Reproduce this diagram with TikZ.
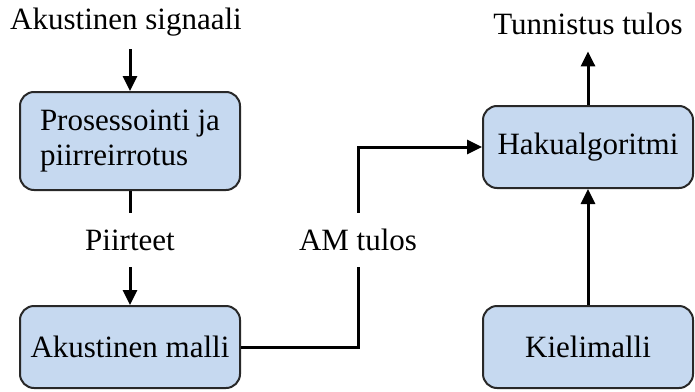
\documentclass[tikz,border=0pt]{standalone}
\usepackage{fontspec}
\setmainfont{Liberation Serif}
\usepackage{tikz}
\usetikzlibrary{arrows.meta,calc}

\definecolor{boxfill}{RGB}{198,217,240}
\definecolor{boxline}{RGB}{40,40,40}

\begin{document}
\begin{tikzpicture}[x=0.5pt,y=-0.5pt,>={Triangle[length=7.5pt,width=7pt]},
  font=\fontsize{15.5}{17.5}\selectfont,
  blk/.style={draw=boxline,fill=boxfill,line width=1pt,rounded corners=7pt,minimum width=110pt,inner sep=0pt},
  lbl/.style={inner sep=0pt,minimum height=27pt},
  conn/.style={line width=1.5pt}]
\useasboundingbox (0,0) rectangle (695,391);

\node[lbl] (sig) at (126,22) {Akustinen signaali};
\node[blk,minimum height=49pt,align=left] (pros) at (130,141) {Prosessointi ja\\piirreirrotus};
\node[lbl] (feat) at (130,240) {Piirteet};
\node[blk,minimum height=41pt] (am) at (130,347) {Akustinen malli};
\node[lbl] (amres) at (358,240) {AM tulos};
\node[blk,minimum height=41pt,minimum width=105pt] (search) at (588,147) {Hakualgoritmi};
\node[lbl] (res) at (588,24) {Tunnistus tulos};
\node[blk,minimum height=41pt,minimum width=105pt] (lm) at (588,347) {Kielimalli};

\draw[conn,->] (sig.south -| pros.north) -- (pros.north);
\draw[conn] (pros) -- (feat);
\draw[conn,->] (feat) -- (am);
\draw[conn] (am.east) -| (amres.south);
\draw[conn,->] (amres.north) |- (search.west);
\draw[conn,->] (search.north) -- (res.south);
\draw[conn,->] (lm.north) -- (search.south);
\end{tikzpicture}
\end{document}
